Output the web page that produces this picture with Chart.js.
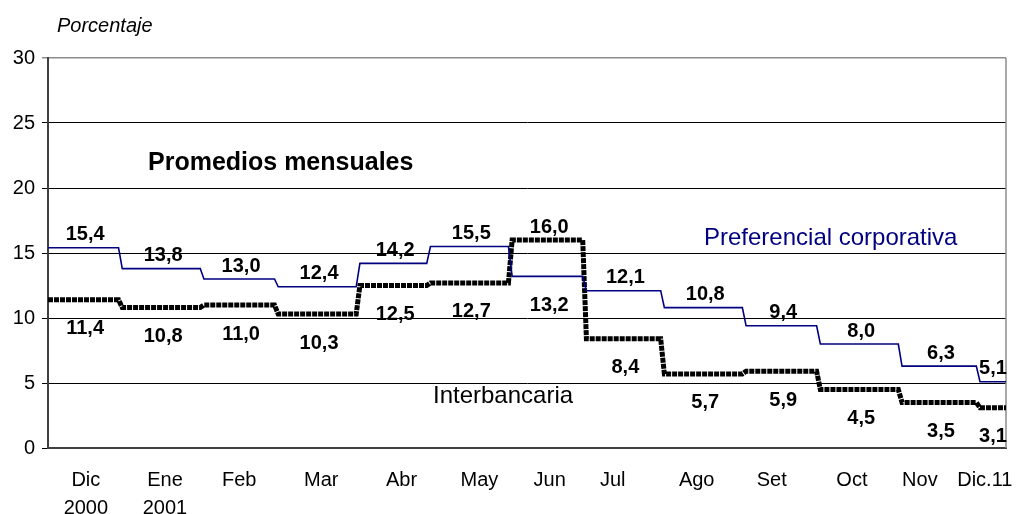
<!DOCTYPE html>
<html>
<head>
<meta charset="utf-8">
<script src="https://cdn.jsdelivr.net/npm/chart.js@4/dist/chart.umd.min.js"></script>
<style>
  body { margin: 0; background: #fff; }
</style>
</head>
<body>
<canvas id="tasas" width="1022" height="514"></canvas>
<script>
// dias habiles acumulados al inicio de cada mes (Dic 2000 ... Dic 11 2001)
const monthStart = [0, 20, 42, 62, 84, 103, 125, 145, 166, 188, 208, 230, 251, 258]
const preferencial = [15.4, 13.8, 13.0, 12.4, 14.2, 15.5, 13.2, 12.1, 10.8, 9.4, 8.0, 6.3, 5.1]
const interbancaria = [11.4, 10.8, 11.0, 10.3, 12.5, 12.7, 16.0, 8.4, 5.7, 5.9, 4.5, 3.5, 3.1]

// etiquetas del eje x y donde van (en dias)
const xLabels = [['Dic', '2000'], ['Ene', '2001'], 'Feb', 'Mar', 'Abr', 'May', 'Jun', 'Jul', 'Ago', 'Set', 'Oct', 'Nov', 'Dic.11']
const xLabelAt = [10.2, 31.5, 51.5, 73.6, 95.2, 116.2, 135.1, 152.1, 174.7, 194.9, 216.5, 234.8, 252.3]

const FONT = "'Liberation Sans', Arial, sans-serif"

// promedio mensual -> tramo plano por mes
function steps(values) {
    const pts = []
    for (let i = 0; i < values.length; i++) {
        const last = i === values.length - 1
        pts.push({ x: monthStart[i], y: values[i] })
        pts.push({ x: last ? monthStart[i + 1] : monthStart[i + 1] - 1, y: values[i] })
    }
    return pts
}

const etiquetas = {
    id: 'etiquetas',
    beforeDatasetsDraw(chart) {
        const { ctx, chartArea } = chart
        ctx.save()
        ctx.strokeStyle = '#8c8c8c'
        ctx.lineWidth = 1.5
        ctx.beginPath()
        ctx.moveTo(chartArea.right, chartArea.top)
        ctx.lineTo(chartArea.right, chartArea.bottom)
        ctx.stroke()
        ctx.restore()
    },
    afterDatasetsDraw(chart) {
        const { ctx } = chart
        const xs = chart.scales.x
        const ys = chart.scales.y
        ctx.save()
        ctx.fillStyle = '#000'
        ctx.textAlign = 'center'
        ctx.textBaseline = 'middle'
        ctx.font = 'bold 20px ' + FONT
        for (let i = 0; i < preferencial.length; i++) {
            const cx = xs.getPixelForValue((monthStart[i] + monthStart[i + 1]) / 2)
            const p = preferencial[i]
            const b = interbancaria[i]
            const hiVal = Math.max(p, b)
            const loVal = Math.min(p, b)
            ctx.fillText(hiVal.toFixed(1).replace('.', ','), cx, ys.getPixelForValue(hiVal) - 13)
            ctx.fillText(loVal.toFixed(1).replace('.', ','), cx, ys.getPixelForValue(loVal) + 29)
        }

        ctx.textAlign = 'left'
        ctx.font = 'italic 20px ' + FONT
        ctx.fillText('Porcentaje', 57, 26)
        ctx.font = 'bold 25px ' + FONT
        ctx.fillText('Promedios mensuales', 148, 163)
        ctx.font = '24px ' + FONT
        ctx.fillStyle = '#000080'
        ctx.fillText('Preferencial corporativa', 704, 238)
        ctx.fillStyle = '#000'
        ctx.fillText('Interbancaria', 433, 396)
        ctx.restore()
    }
}

new Chart(document.getElementById('tasas'), {
    type: 'line',
    data: {
        datasets: [{
            label: 'Preferencial corporativa',
            data: steps(preferencial),
            borderColor: '#000080',
            borderWidth: 1.6,
            pointRadius: 0,
            tension: 0
        }, {
            label: 'Interbancaria',
            data: steps(interbancaria),
            borderColor: '#000',
            borderWidth: 5,
            borderDash: [5, 1],
            pointRadius: 0,
            tension: 0
        }]
    },
    options: {
        responsive: false,
        animation: false,
        devicePixelRatio: 1,
        layout: { padding: { top: 58, right: 16, left: 0, bottom: 0 } },
        plugins: {
            legend: { display: false },
            tooltip: { enabled: false }
        },
        scales: {
            x: {
                type: 'linear',
                min: 0,
                max: monthStart[monthStart.length - 1],
                afterBuildTicks: scale => {
                    scale.ticks = xLabelAt.map(v => ({ value: v }))
                },
                afterFit: scale => {
                    scale.height = 66
                    scale.paddingLeft = 0
                    scale.paddingRight = 0
                },
                grid: { display: false, drawTicks: false },
                border: { display: true, color: '#404040', width: 2 },
                ticks: {
                    autoSkip: false,
                    maxRotation: 0,
                    padding: 18,
                    color: '#000',
                    font: { family: FONT, size: 20, lineHeight: 1.4 },
                    callback: (v, i) => xLabels[i]
                }
            },
            y: {
                min: 0,
                max: 30,
                afterFit: scale => { scale.width = 48 },
                grid: {
                    color: c => c.tick.value === 30 ? '#8c8c8c' : '#000',
                    lineWidth: c => c.tick.value === 30 ? 1.5 : 1,
                    tickLength: 6
                },
                border: { display: true, color: '#404040', width: 2 },
                ticks: {
                    stepSize: 5,
                    padding: 7,
                    color: '#000',
                    font: { family: FONT, size: 20 }
                }
            }
        }
    },
    plugins: [etiquetas]
})
</script>
</body>
</html>
